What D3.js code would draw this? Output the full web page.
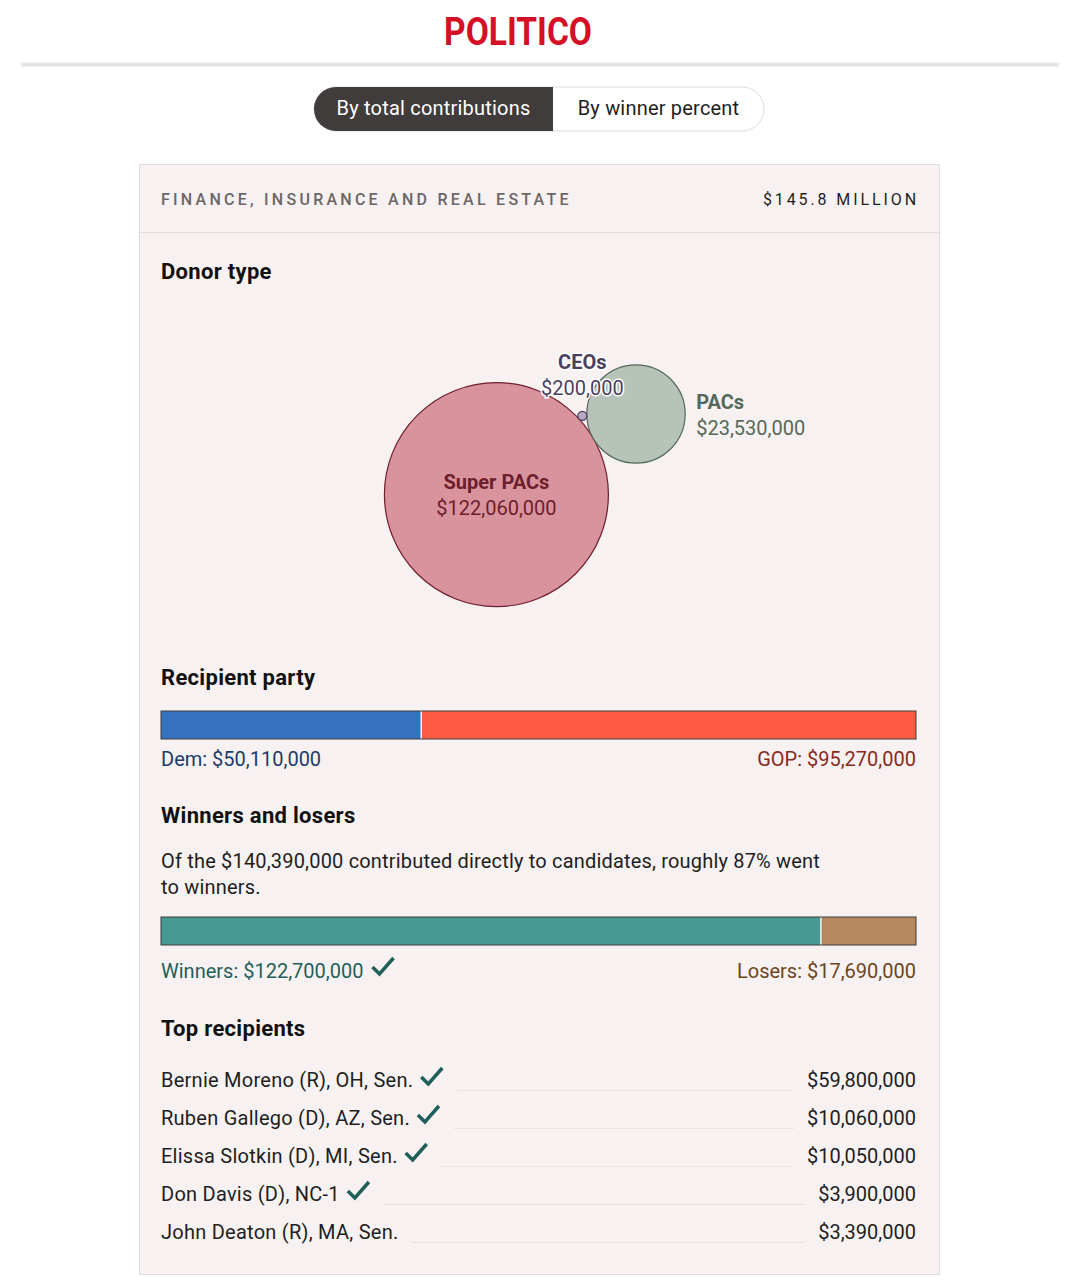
<!DOCTYPE html>
<html>
<head>
<meta charset="utf-8">
<script src="https://cdn.jsdelivr.net/npm/d3@7"></script>
<style>
  body { margin: 0; background: #fff; }
  svg text { font-family: Roboto, "Noto Sans", sans-serif; }
</style>
</head>
<body>
<div id="canvas"></div>
<script>
var width = 1080,
	height = 1280;

// ---- data ----
var sectorName = "FINANCE, INSURANCE AND REAL ESTATE";

var donorTypes = ["Super PACs", "PACs", "CEOs"];
var donorValues = [122060000, 23530000, 200000];

var partyLabels = ["Dem", "GOP"];
var partyValues = [50110000, 95270000];

var outcomeLabels = ["Winners", "Losers"];
var outcomeValues = [122700000, 17690000];

var recipientNames = [
	"Bernie Moreno (R), OH, Sen.",
	"Ruben Gallego (D), AZ, Sen.",
	"Elissa Slotkin (D), MI, Sen.",
	"Don Davis (D), NC-1",
	"John Deaton (R), MA, Sen."
];
var recipientValues = [59800000, 10060000, 10050000, 3900000, 3390000];
var recipientWon = [true, true, true, true, false];

var toggleLabels = ["By total contributions", "By winner percent"];

// ---- layout ----
var card = {x: 139, y: 164, w: 800, h: 1110};
var left = 161, right = 916;

var money = d3.format("$,");
var checkPath = "M0,10 L7,17 L21,1";

var svg = d3.select("#canvas")
	.append("svg")
		.attr("width", width)
		.attr("height", height);

var defs = svg.append("defs");
defs.append("filter").attr("id", "blur")
	.append("feGaussianBlur").attr("stdDeviation", 1.5);

// header
svg.append("text")
	.attr("x", width / 2 - 22)
	.attr("y", 45)
	.attr("text-anchor", "middle")
	.attr("textLength", 148)
	.attr("lengthAdjust", "spacingAndGlyphs")
	.style("font-size", "38px")
	.style("font-weight", 700)
	.style("fill", "#d50f25")
	.text("POLITICO");

svg.append("rect")
	.attr("x", 21).attr("y", 63)
	.attr("width", width - 42).attr("height", 3)
	.attr("fill", "#d4d4d4")
	.attr("filter", "url(#blur)");

// toggle pill
var toggle = svg.append("g");
toggle.append("rect")
	.attr("x", 314).attr("y", 87)
	.attr("width", 450).attr("height", 44)
	.attr("rx", 22)
	.attr("fill", "#fff")
	.attr("stroke", "#dcdcdc");
toggle.append("path")
	.attr("d", "M553,87 H336 A22,22 0 0 0 336,131 H553 Z")
	.attr("fill", "#403c3b");
toggle.selectAll("text")
	.data(toggleLabels)
	.enter().append("text")
		.attr("x", function(d, i){ return i === 0 ? 433.5 : 658.5; })
		.attr("y", 115)
		.attr("text-anchor", "middle")
		.style("font-size", "20px")
		.style("letter-spacing", "0.2px")
		.style("fill", function(d, i){ return i === 0 ? "#fff" : "#1e1e1e"; })
		.text(function(d){ return d; });

// card
svg.append("rect")
	.attr("x", card.x + 0.5).attr("y", card.y + 0.5)
	.attr("width", card.w).attr("height", card.h)
	.attr("fill", "#f7f1f1")
	.attr("stroke", "#e2dcdc");
svg.append("line")
	.attr("x1", card.x).attr("x2", card.x + card.w)
	.attr("y1", 232.5).attr("y2", 232.5)
	.attr("stroke", "#e3dddd");

svg.append("text")
	.attr("x", left).attr("y", 205)
	.style("font-size", "16px")
	.style("font-weight", 500)
	.style("letter-spacing", "3.25px")
	.style("fill", "#6c6666")
	.text(sectorName);

var sectorTotal = d3.sum(donorValues);
svg.append("text")
	.attr("x", right + 3).attr("y", 205)
	.attr("text-anchor", "end")
	.style("font-size", "16px")
	.style("letter-spacing", "2.9px")
	.style("fill", "#1e1e1e")
	.text("$" + (sectorTotal / 1e6).toFixed(1) + " MILLION");

function heading(txt, y){
	svg.append("text")
		.attr("x", left).attr("y", y)
		.style("font-size", "22px")
		.style("font-weight", 700)
		.style("letter-spacing", "0.3px")
		.style("fill", "#111")
		.text(txt);
}

// ---- Donor type bubbles ----
heading("Donor type", 279);

var donorFill = ["#d9939c", "#b7c3b8", "#b5aabf"];
var donorStroke = ["#6e1e2c", "#55695a", "#4b3f5e"];

var r = d3.scaleSqrt()
	.domain([0, d3.max(donorValues)])
	.range([0, 112]);

var bubbles = donorValues.map(function(v, i){
	return {name: donorTypes[i], value: v, r: r(v), i: i};
});
d3.packSiblings(bubbles);

// rotate the packed group so PACs sit up and to the right
var angle = -30 * Math.PI / 180,
	cx0 = (card.x + card.x + card.w) / 2,
	cy0 = 470;
bubbles.forEach(function(b){
	var x = b.x, y = -b.y;
	b.x = cx0 + x * Math.cos(angle) - y * Math.sin(angle);
	b.y = cy0 + x * Math.sin(angle) + y * Math.cos(angle);
});

var bubble = svg.append("g").selectAll("g")
	.data(bubbles)
	.enter().append("g")
		.attr("transform", function(d){ return "translate(" + d.x + "," + d.y + ")"; });

bubble.append("circle")
	.attr("r", function(d){ return d.r; })
	.attr("fill", function(d){ return donorFill[d.i]; })
	.attr("stroke", function(d){ return donorStroke[d.i]; })
	.attr("stroke-width", 1.2);

// labels: inside for the big one, right of PACs, above CEOs
function labelPos(d){
	if (d.i === 0) return {x: 0, y: -6, anchor: "middle"};
	if (d.i === 1) return {x: d.r + 11, y: -5, anchor: "start"};
	return {x: 0, y: -47, anchor: "middle"};
}

var bubbleLabels = svg.append("g").selectAll("g")
	.data(bubbles)
	.enter().append("g")
		.attr("transform", function(d){
			var p = labelPos(d);
			return "translate(" + (d.x + p.x) + "," + (d.y + p.y) + ")";
		});

bubbleLabels.append("text")
	.attr("text-anchor", function(d){ return labelPos(d).anchor; })
	.style("font-size", "20px")
	.style("font-weight", 700)
	.style("fill", function(d){ return donorStroke[d.i]; })
	.style("stroke", function(d){ return d.i === 2 ? "#fff" : "none"; })
	.style("stroke-width", 3)
	.style("paint-order", "stroke")
	.text(function(d){ return d.name; });

bubbleLabels.append("text")
	.attr("y", 26)
	.attr("text-anchor", function(d){ return labelPos(d).anchor; })
	.style("font-size", "20px")
	.style("fill", function(d){ return donorStroke[d.i]; })
	.style("stroke", function(d){ return d.i === 2 ? "#fff" : "none"; })
	.style("stroke-width", 3)
	.style("paint-order", "stroke")
	.text(function(d){ return money(d.value); });

// ---- stacked bars ----
var x = d3.scaleLinear().range([left, right]);

function stackBar(labels, values, colors, textColors, y, labelY){
	x.domain([0, d3.sum(values)]);
	var starts = d3.cumsum([0].concat(values));
	var g = svg.append("g");
	g.selectAll("rect")
		.data(values)
		.enter().append("rect")
			.attr("x", function(d, i){ return x(starts[i]); })
			.attr("y", y)
			.attr("width", function(d){ return x(d) - x(0); })
			.attr("height", 28)
			.attr("fill", function(d, i){ return colors[i]; });
	g.append("line")
		.attr("x1", x(starts[1])).attr("x2", x(starts[1]))
		.attr("y1", y).attr("y2", y + 28)
		.attr("stroke", "#f4f0f0").attr("stroke-width", 1.5);
	g.append("rect")
		.attr("x", left).attr("y", y)
		.attr("width", right - left).attr("height", 28)
		.attr("fill", "none")
		.attr("stroke", "#3d3d3d")
		.attr("stroke-width", 1);
	var lbl = g.selectAll("text")
		.data(labels)
		.enter().append("text")
			.attr("x", function(d, i){ return i === 0 ? left : right; })
			.attr("y", labelY)
			.attr("text-anchor", function(d, i){ return i === 0 ? "start" : "end"; })
			.style("font-size", "20px")
			.style("fill", function(d, i){ return textColors[i]; })
			.text(function(d, i){ return d + ": " + money(values[i]); });
	return lbl;
}

heading("Recipient party", 685);
stackBar(partyLabels, partyValues, ["#3672c0", "#ff5a42"], ["#1d3a6a", "#8a2a1c"], 711, 766);

heading("Winners and losers", 823);

var directTotal = d3.sum(outcomeValues);
var winPct = Math.round(outcomeValues[0] / directTotal * 100);
var para = svg.append("text")
	.style("font-size", "20px")
	.style("letter-spacing", "0.18px")
	.style("fill", "#1e1e1e");
para.append("tspan").attr("x", left).attr("y", 868)
	.text("Of the " + money(directTotal) + " contributed directly to candidates, roughly " + winPct + "% went");
para.append("tspan").attr("x", left).attr("y", 894)
	.text("to winners.");

var outLbl = stackBar(outcomeLabels, outcomeValues, ["#459b93", "#b5885d"], ["#1f5f5a", "#6b4620"], 917, 978);

// check mark next to winners
var winEnd = left + outLbl.nodes()[0].getComputedTextLength();
svg.append("path")
	.attr("d", checkPath)
	.attr("transform", "translate(" + (winEnd + 9) + "," + (978 - 21) + ")")
	.attr("fill", "none")
	.attr("stroke", "#1f5f5a")
	.attr("stroke-width", 3.5);

// ---- top recipients ----
heading("Top recipients", 1036);

var rowY = d3.scalePoint()
	.domain(recipientNames)
	.range([1087, 1239]);

var rows = svg.append("g").selectAll("g")
	.data(recipientNames)
	.enter().append("g")
		.attr("transform", function(d){ return "translate(0," + rowY(d) + ")"; });

rows.append("text")
	.attr("class", "name")
	.attr("x", left)
	.style("font-size", "20px")
	.style("letter-spacing", "0.25px")
	.style("fill", "#1e1e1e")
	.text(function(d){ return d; });

rows.append("text")
	.attr("class", "value")
	.attr("x", right)
	.attr("text-anchor", "end")
	.style("font-size", "20px")
	.style("fill", "#1e1e1e")
	.text(function(d, i){ return money(recipientValues[i]); });

rows.each(function(d, i){
	var row = d3.select(this);
	var nameEnd = left + row.select(".name").node().getComputedTextLength();
	var valStart = right - row.select(".value").node().getComputedTextLength();
	var lineStart = nameEnd + 13;
	if (recipientWon[i]) {
		row.append("path")
			.attr("d", checkPath)
			.attr("transform", "translate(" + (nameEnd + 8) + ",-20)")
			.attr("fill", "none")
			.attr("stroke", "#1f5f5a")
			.attr("stroke-width", 3.5);
		lineStart = nameEnd + 44;
	}
	row.append("line")
		.attr("x1", lineStart).attr("x2", valStart - 13)
		.attr("y1", 3.5).attr("y2", 3.5)
		.attr("stroke", "#dcd6d6")
		.attr("stroke-dasharray", "1,1");
});
</script>
</body>
</html>
